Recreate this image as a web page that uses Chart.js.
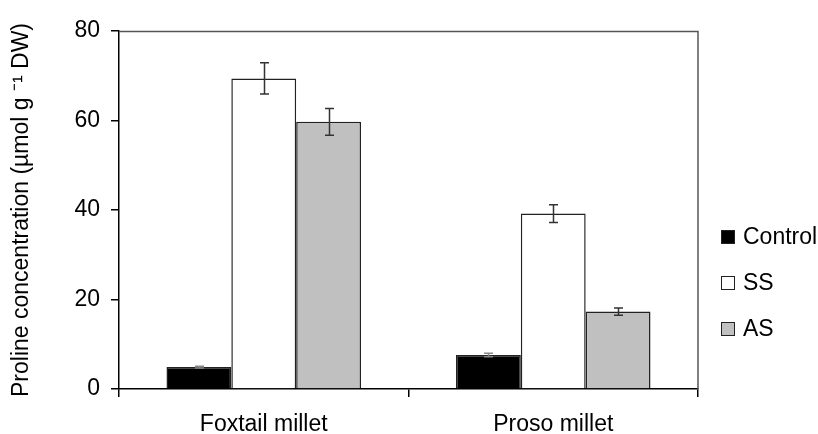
<!DOCTYPE html>
<html><head><meta charset="utf-8">
<script src="https://cdn.jsdelivr.net/npm/chart.js@4/dist/chart.umd.min.js"></script>
<style>html,body{margin:0;padding:0;background:#fff;}#wrap{width:818px;height:434px;}</style>
</head><body><div id="wrap"><canvas id="c" width="818" height="434"></canvas></div>
<script>
const categories = ['Foxtail millet', 'Proso millet'];
const seriesNames = ['Control', 'SS', 'AS'];
const controlValues = [4.9, 7.6];
const ssValues = [69.4, 39.2];
const asValues = [59.7, 17.3];
const controlErrors = [0.2, 0.4];
const ssErrors = [3.5, 2.0];
const asErrors = [3.0, 0.8];
const yTicks = [0, 20, 40, 60, 80];
const yTitle = 'Proline concentration (µmol g \u207B\u00B9 DW)';

const FONT = "'Liberation Sans', Arial, sans-serif";
const FS = 23;
const fillColors = ['#000000', '#ffffff', '#c0c0c0'];

const errorBars = {
  id: 'errorBars',
  afterDatasetsDraw(chart) {
    const ctx = chart.ctx, ys = chart.scales.y;
    ctx.save();
    chart.data.datasets.forEach((ds, i) => {
      const meta = chart.getDatasetMeta(i);
      meta.data.forEach((el, j) => {
        const v = ds.data[j], e = ds.errors[j];
        const yt = ys.getPixelForValue(v + e), yb = ys.getPixelForValue(v - e);
        const x = Math.round(el.x) + 0.5, w = 4.5;
        ctx.strokeStyle = i === 0 ? '#888' : '#333';
        ctx.lineWidth = 1.5;
        ctx.beginPath();
        ctx.moveTo(x, yt); ctx.lineTo(x, yb);
        ctx.moveTo(x - w, yt); ctx.lineTo(x + w, yt);
        ctx.moveTo(x - w, yb); ctx.lineTo(x + w, yb);
        ctx.stroke();
      });
    });
    ctx.restore();
  }
};

const frameAndLegend = {
  id: 'frameAndLegend',
  afterDraw(chart) {
    const ctx = chart.ctx, a = chart.chartArea;
    ctx.save();
    ctx.strokeStyle = '#555';
    ctx.lineWidth = 1.5;
    ctx.beginPath();
    ctx.moveTo(a.left, a.top + 0.5);
    ctx.lineTo(a.right, a.top + 0.5);
    ctx.lineTo(a.right, a.bottom);
    ctx.stroke();
    ctx.font = FS + 'px ' + FONT;
    ctx.textBaseline = 'middle';
    ctx.textAlign = 'left';
    chart.data.datasets.forEach((ds, i) => {
      const cy = 237 + i * 46;
      const bx = a.right + 23;
      ctx.fillStyle = ds.backgroundColor;
      ctx.fillRect(bx, cy - 7, 14, 14);
      ctx.strokeStyle = '#222';
      ctx.lineWidth = 1;
      ctx.strokeRect(bx + 0.5, cy - 6.5, 13, 13);
      ctx.fillStyle = '#000';
      ctx.fillText(ds.label, bx + 22, cy + 1);
    });
    ctx.restore();
  }
};

const errorsBySeries = [controlErrors, ssErrors, asErrors];
const valuesBySeries = [controlValues, ssValues, asValues];

new Chart(document.getElementById('c'), {
  type: 'bar',
  data: {
    labels: categories,
    datasets: seriesNames.map((n, i) => ({
      label: n,
      data: valuesBySeries[i],
      errors: errorsBySeries[i],
      backgroundColor: fillColors[i],
      borderColor: '#222',
      borderWidth: 1.5,
      barPercentage: 1,
      categoryPercentage: 0.672
    }))
  },
  options: {
    responsive: false,
    devicePixelRatio: 1,
    animation: false,
    layout: { padding: { left: 0, right: 120, top: 31, bottom: 0 } },
    plugins: { legend: { display: false }, tooltip: { enabled: false } },
    scales: {
      x: {
        grid: { drawOnChartArea: false, tickLength: 8, color: '#000', lineWidth: 1.5, offset: true },
        border: { color: '#000', width: 1.5 },
        ticks: { color: '#000', font: { family: FONT, size: FS }, padding: 14, maxRotation: 0 },
        afterFit(s) { s.height = 45; }
      },
      y: {
        min: 0, max: 80,
        afterBuildTicks(s) { s.ticks = yTicks.map(v => ({ value: v })); },
        grid: { drawOnChartArea: false, tickLength: 8, color: '#000', lineWidth: 1.5 },
        border: { color: '#000', width: 1.5 },
        ticks: { color: '#000', font: { family: FONT, size: FS }, padding: 11 },
        title: { display: true, text: yTitle, color: '#000', font: { family: FONT, size: FS }, padding: { top: 8, bottom: 0 } },
        afterFit(s) { s.width = 119; }
      }
    }
  },
  plugins: [errorBars, frameAndLegend]
});
</script></body></html>
